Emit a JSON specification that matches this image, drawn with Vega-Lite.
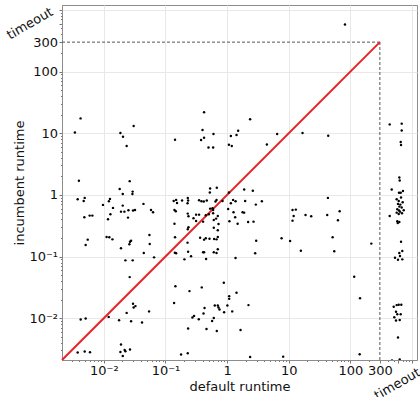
{
  "$schema": "https://vega.github.io/schema/vega-lite/v6.json",
  "width": 355,
  "height": 355,
  "autosize": {"type": "none"},
  "padding": {"left": 62, "top": 5, "right": 3, "bottom": 37},
  "background": "white",
  "config": {
    "font": "DejaVu Sans",
    "view": {"stroke": "#8c8c8c", "strokeWidth": 1},
    "axis": {
      "domainColor": "#8c8c8c",
      "tickColor": "#777",
      "gridColor": "#e8e8e8",
      "labelFont": "DejaVu Sans",
      "labelFontSize": 13,
      "labelColor": "#111",
      "titleFont": "DejaVu Sans",
      "titleFontSize": 13,
      "titleFontWeight": "normal",
      "titleColor": "#111",
      "labelPadding": 1.5,
      "labelOverlap": false,
      "labelFlush": false,
      "labelBound": false
    }
  },
  "datasets": {
    "pts": [
      {"default":0.0042,"incumbent":17.4},{"default":0.0034,"incumbent":10.3},{"default":0.0186,"incumbent":10.1},{"default":0.0305,"incumbent":13.1},{"default":0.0205,"incumbent":8.77},{"default":0.0235,"incumbent":6.19},{"default":0.143,"incumbent":7.84},{"default":0.00395,"incumbent":1.69},{"default":0.0263,"incumbent":1.67},{"default":0.0181,"incumbent":1.25},{"default":0.0294,"incumbent":1.13},{"default":0.0203,"incumbent":1.03},{"default":0.0291,"incumbent":1.03},{"default":0.00377,"incumbent":0.851},{"default":0.0049,"incumbent":0.894},{"default":0.00472,"incumbent":0.798},{"default":0.0126,"incumbent":0.861},{"default":0.0121,"incumbent":0.79},{"default":0.0097,"incumbent":0.688},{"default":0.0203,"incumbent":0.67},{"default":0.044,"incumbent":0.714},{"default":0.0141,"incumbent":0.615},{"default":0.019,"incumbent":0.535},{"default":0.0216,"incumbent":0.535},{"default":0.0251,"incumbent":0.564},{"default":0.0298,"incumbent":0.556},{"default":0.0321,"incumbent":0.57},{"default":0.0583,"incumbent":0.57},{"default":0.0629,"incumbent":0.523},{"default":0.00484,"incumbent":0.434},{"default":0.0059,"incumbent":0.461},{"default":0.00653,"incumbent":0.461},{"default":0.0128,"incumbent":0.485},{"default":0.0117,"incumbent":0.403},{"default":0.0247,"incumbent":0.428},{"default":0.136,"incumbent":0.798},{"default":0.149,"incumbent":0.829},{"default":0.154,"incumbent":0.741},{"default":0.186,"incumbent":0.808},{"default":0.23,"incumbent":0.894},{"default":0.233,"incumbent":0.808},{"default":0.228,"incumbent":0.733},{"default":0.14,"incumbent":0.57},{"default":0.147,"incumbent":0.543},{"default":0.23,"incumbent":0.497},{"default":0.236,"incumbent":0.451},{"default":0.285,"incumbent":0.418},{"default":0.14,"incumbent":0.341},{"default":0.236,"incumbent":0.298},{"default":0.23,"incumbent":0.277},{"default":0.00548,"incumbent":0.188},{"default":0.00508,"incumbent":0.154},{"default":0.0111,"incumbent":0.207},{"default":0.0123,"incumbent":0.205},{"default":0.0138,"incumbent":0.19},{"default":0.019,"incumbent":0.136},{"default":0.0266,"incumbent":0.174},{"default":0.0277,"incumbent":0.181},{"default":0.026,"incumbent":0.158},{"default":0.055,"incumbent":0.224},{"default":0.0556,"incumbent":0.16},{"default":0.0445,"incumbent":0.114},{"default":0.0653,"incumbent":0.097},{"default":0.0224,"incumbent":0.0867},{"default":0.0294,"incumbent":0.0867},{"default":0.143,"incumbent":0.205},{"default":0.228,"incumbent":0.168},{"default":0.142,"incumbent":0.115},{"default":0.149,"incumbent":0.113},{"default":0.233,"incumbent":0.12},{"default":0.26,"incumbent":0.101},{"default":0.203,"incumbent":0.09},{"default":0.0263,"incumbent":0.0464},{"default":0.145,"incumbent":0.0331},{"default":0.245,"incumbent":0.0275},{"default":0.138,"incumbent":0.0177},{"default":0.0298,"incumbent":0.0171},{"default":0.0326,"incumbent":0.0157},{"default":0.0305,"incumbent":0.0149},{"default":0.0235,"incumbent":0.0122},{"default":0.0542,"incumbent":0.0129},{"default":0.012,"incumbent":0.0105},{"default":0.0177,"incumbent":0.00928},{"default":0.0277,"incumbent":0.00894},{"default":0.0417,"incumbent":0.00851},{"default":0.00422,"incumbent":0.00953},{"default":0.00508,"incumbent":0.00989},{"default":0.291,"incumbent":0.0109},{"default":0.274,"incumbent":0.0103},{"default":0.233,"incumbent":0.0068},{"default":0.00377,"incumbent":0.00277},{"default":0.0049,"incumbent":0.00288},{"default":0.00597,"incumbent":0.0028},{"default":0.019,"incumbent":0.00374},{"default":0.0186,"incumbent":0.00283},{"default":0.0218,"incumbent":0.00305},{"default":0.0224,"incumbent":0.00291},{"default":0.0266,"incumbent":0.0031},{"default":0.0203,"incumbent":0.00244},{"default":0.179,"incumbent":0.00257},{"default":0.23,"incumbent":0.0027},
      {"default":0.423,"incumbent":21.8},{"default":0.399,"incumbent":11.3},{"default":0.601,"incumbent":9.7},{"default":0.423,"incumbent":8.45},{"default":0.378,"incumbent":7.75},{"default":0.499,"incumbent":5.88},{"default":0.593,"incumbent":5.88},{"default":2.36,"incumbent":16.8},{"default":1.51,"incumbent":11.0},{"default":1.42,"incumbent":9.35},{"default":1.15,"incumbent":9.0},{"default":1.07,"incumbent":6.5},{"default":1.19,"incumbent":6.19},{"default":4.41,"incumbent":6.58},{"default":6.48,"incumbent":9.7},{"default":16.7,"incumbent":10.1},{"default":0.53,"incumbent":1.27},{"default":0.524,"incumbent":1.09},{"default":0.68,"incumbent":1.3},{"default":1.89,"incumbent":1.22},{"default":2.61,"incumbent":1.17},{"default":0.351,"incumbent":0.82},{"default":0.384,"incumbent":0.79},{"default":0.419,"incumbent":0.778},{"default":0.468,"incumbent":0.808},{"default":0.673,"incumbent":0.829},{"default":0.648,"incumbent":0.778},{"default":0.842,"incumbent":0.798},{"default":1.07,"incumbent":1.09},{"default":1.25,"incumbent":0.829},{"default":1.37,"incumbent":0.79},{"default":1.15,"incumbent":0.733},{"default":1.96,"incumbent":0.798},{"default":3.66,"incumbent":0.79},{"default":2.92,"incumbent":0.695},{"default":1.04,"incumbent":0.592},{"default":0.314,"incumbent":0.478},{"default":0.351,"incumbent":0.478},{"default":0.451,"incumbent":0.468},{"default":0.505,"incumbent":0.485},{"default":0.593,"incumbent":0.504},{"default":0.593,"incumbent":0.57},{"default":0.53,"incumbent":0.598},{"default":0.579,"incumbent":0.608},{"default":0.706,"incumbent":0.456},{"default":0.663,"incumbent":0.412},{"default":0.608,"incumbent":0.392},{"default":0.725,"incumbent":0.338},{"default":0.608,"incumbent":0.294},{"default":0.706,"incumbent":0.267},{"default":0.314,"incumbent":0.378},{"default":0.408,"incumbent":0.368},{"default":1.27,"incumbent":0.523},{"default":1.35,"incumbent":0.434},{"default":1.09,"incumbent":0.373},{"default":1.48,"incumbent":0.341},{"default":1.78,"incumbent":0.523},{"default":1.89,"incumbent":0.515},{"default":2.19,"incumbent":0.364},{"default":2.68,"incumbent":0.368},{"default":11.5,"incumbent":0.57},{"default":13.0,"incumbent":0.577},{"default":12.0,"incumbent":0.456},{"default":11.5,"incumbent":0.382},{"default":0.365,"incumbent":0.202},{"default":0.423,"incumbent":0.188},{"default":0.451,"incumbent":0.198},{"default":0.518,"incumbent":0.195},{"default":0.615,"incumbent":0.193},{"default":0.673,"incumbent":0.19},{"default":0.706,"incumbent":0.207},{"default":0.408,"incumbent":0.117},{"default":0.423,"incumbent":0.117},{"default":0.608,"incumbent":0.117},{"default":0.673,"incumbent":0.114},{"default":0.706,"incumbent":0.131},{"default":0.456,"incumbent":0.091},{"default":1.37,"incumbent":0.0946},{"default":2.96,"incumbent":0.181},{"default":2.85,"incumbent":0.113},{"default":7.64,"incumbent":0.198},{"default":10.5,"incumbent":0.179},{"default":15.7,"incumbent":0.124},{"default":0.388,"incumbent":0.0316},{"default":0.884,"incumbent":0.0375},{"default":1.08,"incumbent":0.0228},{"default":1.08,"incumbent":0.0206},{"default":1.42,"incumbent":0.0258},{"default":0.631,"incumbent":0.0161},{"default":0.706,"incumbent":0.0161},{"default":0.725,"incumbent":0.0149},{"default":0.753,"incumbent":0.0138},{"default":1.01,"incumbent":0.0161},{"default":0.43,"incumbent":0.0146},{"default":0.414,"incumbent":0.0119},{"default":0.894,"incumbent":0.0125},{"default":1.21,"incumbent":0.0129},{"default":2.22,"incumbent":0.0163},{"default":0.347,"incumbent":0.00963},{"default":0.608,"incumbent":0.0101},{"default":0.571,"incumbent":0.00904},{"default":0.463,"incumbent":0.0067},{"default":0.68,"incumbent":0.00621},{"default":1.65,"incumbent":0.00645},{"default":2.36,"incumbent":0.00235},{"default":8.11,"incumbent":0.00238},
      {"default":81.5,"incumbent":581},{"default":43.6,"incumbent":9.1},{"default":43.1,"incumbent":0.894},{"default":18.7,"incumbent":0.473},{"default":23.1,"incumbent":0.451},{"default":42.0,"incumbent":0.473},{"default":66.8,"incumbent":0.543},{"default":62.7,"incumbent":0.388},{"default":51.4,"incumbent":0.205},{"default":54.6,"incumbent":0.122},{"default":218,"incumbent":0.162},{"default":115,"incumbent":0.0469},{"default":143,"incumbent":0.0211},{"default":141,"incumbent":0.0026},
      {"default":433,"incumbent":13.9},{"default":678,"incumbent":14.3},{"default":678,"incumbent":11.1},{"default":653,"incumbent":7.19},{"default":661,"incumbent":6.43},{"default":620,"incumbent":1.91},{"default":629,"incumbent":1.71},{"default":467,"incumbent":1.22},{"default":613,"incumbent":1.08},{"default":653,"incumbent":1.08},{"default":711,"incumbent":1.16},{"default":562,"incumbent":0.851},{"default":606,"incumbent":0.798},{"default":661,"incumbent":0.904},{"default":703,"incumbent":0.761},{"default":590,"incumbent":0.714},{"default":643,"incumbent":0.695},{"default":620,"incumbent":0.645},{"default":678,"incumbent":0.622},{"default":575,"incumbent":0.585},{"default":613,"incumbent":0.556},{"default":731,"incumbent":0.564},{"default":636,"incumbent":0.535},{"default":562,"incumbent":0.515},{"default":685,"incumbent":0.504},{"default":606,"incumbent":0.491},{"default":433,"incumbent":0.456},{"default":575,"incumbent":0.373},{"default":620,"incumbent":0.364},{"default":584,"incumbent":0.351},{"default":661,"incumbent":0.174},{"default":693,"incumbent":0.123},{"default":620,"incumbent":0.114},{"default":528,"incumbent":0.0955},{"default":636,"incumbent":0.102},{"default":590,"incumbent":0.0887},{"default":693,"incumbent":0.09},{"default":503,"incumbent":0.0153},{"default":562,"incumbent":0.0163},{"default":606,"incumbent":0.0165},{"default":668,"incumbent":0.0165},{"default":548,"incumbent":0.0127},{"default":575,"incumbent":0.0116},{"default":653,"incumbent":0.0116},{"default":514,"incumbent":0.0104},{"default":548,"incumbent":0.00918},{"default":629,"incumbent":0.00938},{"default":590,"incumbent":0.00485},{"default":472,"incumbent":0.00207},{"default":629,"incumbent":0.00215}
    ],
    "diag": [{"default":0.0021,"incumbent":0.0021,"default2":300,"incumbent2":300}],
    "dash": [
      {"default":0.0021,"incumbent":300,"default2":300,"incumbent2":300},
      {"default":300,"incumbent":0.0021,"default2":300,"incumbent2":300}
    ],
    "tx": [{"default":600,"incumbent":0.0021,"label":"timeout"}],
    "ty": [{"default":0.0021,"incumbent":600,"label":"timeout"}]
  },
  "layer": [
    {
      "data": {"name": "dash"},
      "mark": {"type": "rule", "color": "#555", "strokeWidth": 1, "strokeDash": [3, 2]},
      "encoding": {
        "x": {"field": "default", "type": "quantitative", "scale": {"type": "log", "domain": [0.0021, 1200], "nice": false}},
        "x2": {"field": "default2"},
        "y": {"field": "incumbent", "type": "quantitative", "scale": {"type": "log", "domain": [0.0021, 1200], "nice": false}},
        "y2": {"field": "incumbent2"}
      }
    },
    {
      "data": {"name": "diag"},
      "mark": {"type": "rule", "color": "#e8231f", "strokeWidth": 2},
      "encoding": {
        "x": {"field": "default", "type": "quantitative", "scale": {"type": "log", "domain": [0.0021, 1200], "nice": false}},
        "x2": {"field": "default2"},
        "y": {"field": "incumbent", "type": "quantitative", "scale": {"type": "log", "domain": [0.0021, 1200], "nice": false}},
        "y2": {"field": "incumbent2"}
      }
    },
    {
      "data": {"name": "tx"},
      "mark": {"type": "text", "angle": -30, "align": "center", "baseline": "middle", "dx": -12.9, "dy": 20.3, "fontSize": 13, "font": "DejaVu Sans", "color": "#111"},
      "encoding": {
        "x": {"field": "default", "type": "quantitative", "scale": {"type": "log", "domain": [0.0021, 1200], "nice": false}},
        "y": {"field": "incumbent", "type": "quantitative", "scale": {"type": "log", "domain": [0.0021, 1200], "nice": false}},
        "text": {"field": "label"}
      }
    },
    {
      "data": {"name": "ty"},
      "mark": {"type": "text", "angle": -30, "align": "center", "baseline": "middle", "dx": -27.7, "dy": -16, "fontSize": 13, "font": "DejaVu Sans", "color": "#111"},
      "encoding": {
        "x": {"field": "default", "type": "quantitative", "scale": {"type": "log", "domain": [0.0021, 1200], "nice": false}},
        "y": {"field": "incumbent", "type": "quantitative", "scale": {"type": "log", "domain": [0.0021, 1200], "nice": false}},
        "text": {"field": "label"}
      }
    },
    {
      "data": {"name": "pts"},
      "mark": {"type": "circle", "size": 6, "color": "black", "opacity": 1, "clip": true},
      "encoding": {
        "x": {
          "field": "default", "type": "quantitative",
          "scale": {"type": "log", "domain": [0.0021, 1200], "nice": false},
          "axis": {
            "title": "default runtime",
            "titleY": 30.5,
            "titleBaseline": "alphabetic",
            "grid": true,
            "values": [0.003,0.004,0.005,0.006,0.007,0.008,0.009,0.01,0.02,0.03,0.04,0.05,0.06,0.07,0.08,0.09,0.1,0.2,0.3,0.4,0.5,0.6,0.7,0.8,0.9,1,2,3,4,5,6,7,8,9,10,20,30,40,50,60,70,80,90,100,200,300,400,500,600,700,800,900,1000],
            "labelExpr": "datum.value == 0.01 ? '10⁻²' : datum.value == 0.1 ? '10⁻¹' : datum.value == 1 ? '1' : datum.value == 10 ? '10' : datum.value == 100 ? '100' : datum.value == 300 ? '300' : ''",
            "tickSize": {"condition": {"test": "datum.value==0.01||datum.value==0.1||datum.value==1||datum.value==10||datum.value==100||datum.value==300||datum.value==600||datum.value==1000", "value": 3}, "value": 1.5},
            "gridOpacity": {"condition": {"test": "datum.value==0.01||datum.value==0.1||datum.value==1||datum.value==10||datum.value==100||datum.value==1000", "value": 1}, "value": 0}
          }
        },
        "y": {
          "field": "incumbent", "type": "quantitative",
          "scale": {"type": "log", "domain": [0.0021, 1200], "nice": false},
          "axis": {
            "title": "incumbent runtime",
            "titleX": -38.7,
            "titleBaseline": "alphabetic",
            "grid": true,
            "values": [0.003,0.004,0.005,0.006,0.007,0.008,0.009,0.01,0.02,0.03,0.04,0.05,0.06,0.07,0.08,0.09,0.1,0.2,0.3,0.4,0.5,0.6,0.7,0.8,0.9,1,2,3,4,5,6,7,8,9,10,20,30,40,50,60,70,80,90,100,200,300,400,500,600,700,800,900,1000],
            "labelExpr": "datum.value == 0.01 ? '10⁻²' : datum.value == 0.1 ? '10⁻¹' : datum.value == 1 ? '1' : datum.value == 10 ? '10' : datum.value == 100 ? '100' : datum.value == 300 ? '300' : ''",
            "tickSize": {"condition": {"test": "datum.value==0.01||datum.value==0.1||datum.value==1||datum.value==10||datum.value==100||datum.value==300||datum.value==600||datum.value==1000", "value": 3}, "value": 1.5},
            "gridOpacity": {"condition": {"test": "datum.value==0.01||datum.value==0.1||datum.value==1||datum.value==10||datum.value==100||datum.value==1000", "value": 1}, "value": 0}
          }
        }
      }
    }
  ]
}
